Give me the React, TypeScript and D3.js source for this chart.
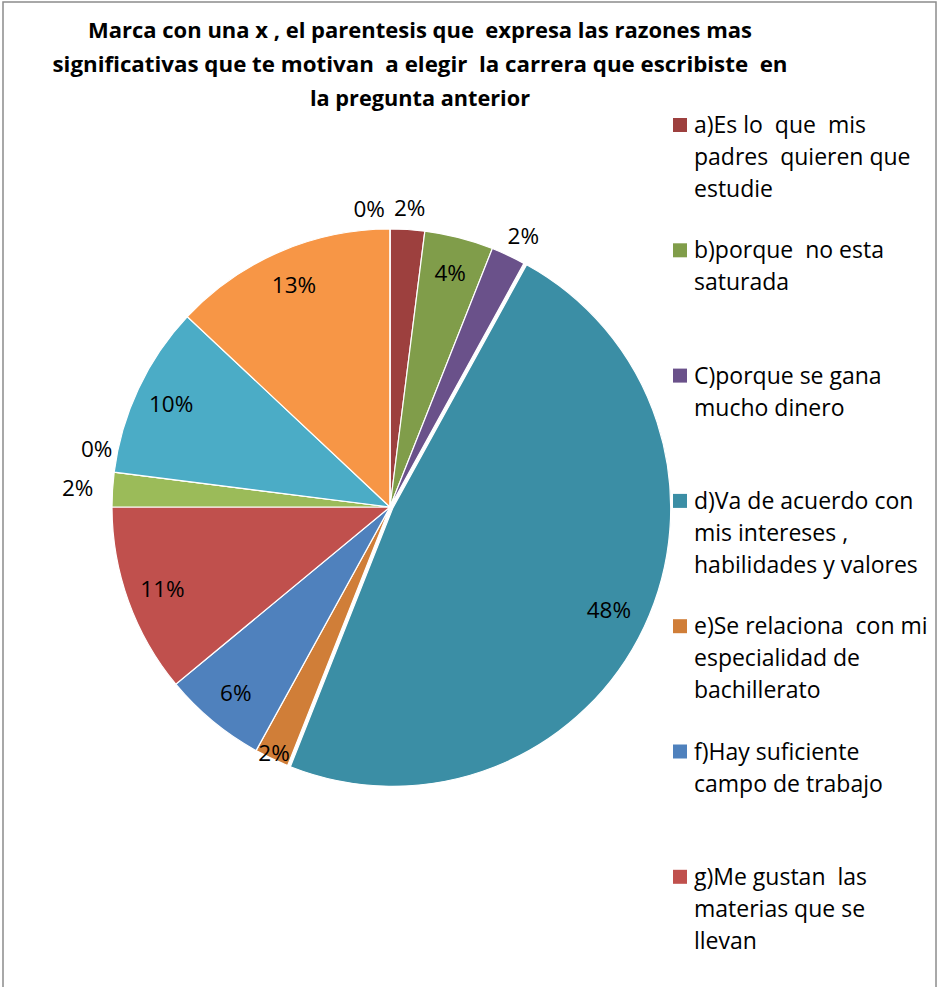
import React from "react";
import * as d3 from "d3";

const titleLines = [
  "Marca con una x , el parentesis que  expresa las razones mas",
  "significativas que te motivan  a elegir  la carrera que escribiste  en",
  "la pregunta anterior",
];

const sliceKeys = ["a", "b", "c", "d", "e", "f", "g", "h", "i", "j", "k", "l"];
const values = [2, 4, 2, 48, 2, 6, 11, 2, 0, 10, 13, 0];
const valueLabels = ["2%", "4%", "2%", "48%", "2%", "6%", "11%", "2%", "0%", "10%", "13%", "0%"];
const colors = [
  "#9D403E", "#809D4A", "#6A518A", "#3B8EA5", "#D07E38", "#4F81BD",
  "#C0504D", "#9BBB59", "#8064A2", "#4BACC6", "#F79646", "#3E6AA3",
];
const legendLines = [
  ["a)Es lo  que  mis", "padres  quieren que", "estudie"],
  ["b)porque  no esta", "saturada"],
  ["C)porque se gana", "mucho dinero"],
  ["d)Va de acuerdo con", "mis intereses ,", "habilidades y valores"],
  ["e)Se relaciona  con mi", "especialidad de", "bachillerato"],
  ["f)Hay suficiente", "campo de trabajo"],
  ["g)Me gustan  las", "materias que se", "llevan"],
];
// label placement style per slice
const labelPlacement = ["out", "in", "out", "in", "edge", "in", "in", "out", "out", "in", "in", "out"];
const explodedIndex = 3;

const FONT = "'Open Sans', Lato, sans-serif";
const titleWidths = [664, 735, 220];

export default function App() {
  const W = 937, H = 987;
  const cx = 390, cy = 507, r = 278;

  const pie = d3.pie<number>().sort(null).value((d) => d).startAngle(0).endAngle(2 * Math.PI);
  const arcs = pie(values);
  const arcGen = d3.arc<d3.PieArcDatum<number>>().innerRadius(0).outerRadius(r);

  const pt = (ang: number, R: number) => [cx + Math.sin(ang) * R, cy - Math.cos(ang) * R];
  const deg = Math.PI / 180;

  const labels = arcs.map((a, i) => {
    let ang = (a.startAngle + a.endAngle) / 2;
    const place = labelPlacement[i];
    if (values[i] === 0) {
      const prev = (i - 1 + values.length) % values.length;
      const next = (i + 1) % values.length;
      if (labelPlacement[prev] === "out" && values[prev] > 0) ang += 4 * deg;
      else if (labelPlacement[next] === "out" && values[next] > 0) ang -= 4 * deg;
    }
    const R = place === "in" ? r * 0.87 : place === "edge" ? r * 0.98 : r + 21;
    let [x, y] = pt(ang, R);
    if (place === "out" && values[i] > 0) x += Math.sin(ang) * 14;
    return { x, y, text: valueLabels[i] };
  });

  const legendX = 673;
  const legendTop = 125;
  const legendStep = 125.3;
  const lineH = 32;

  return (
    <svg width={W} height={H} style={{ position: "absolute", left: 0, top: 0, background: "#fff" }}>
      <rect x={0} y={0} width={W} height={H} fill="#fff" />
      <rect x={3} y={2} width={933} height={H + 10} fill="none" stroke="#8c8c8c" strokeWidth={1.5} />
      {titleLines.map((t, i) => (
        <text key={i} x={420} y={31 + i * 34} dy="0.35em" textAnchor="middle"
          fontFamily={FONT} fontWeight="bold" fontSize={21} fill="#000"
          textLength={titleWidths[i]} lengthAdjust="spacingAndGlyphs" style={{ whiteSpace: "pre" }}>
          {t}
        </text>
      ))}
      <g>
        {arcs.map((a, i) => {
          const mid = (a.startAngle + a.endAngle) / 2;
          const off = i === explodedIndex ? 3 : 0;
          const tx = Math.sin(mid) * off, ty = -Math.cos(mid) * off;
          return (
            <path key={sliceKeys[i]} d={arcGen(a) || ""} fill={colors[i]} stroke="#fff" strokeWidth={1.2}
              transform={`translate(${cx + tx},${cy + ty})`} />
          );
        })}
      </g>
      {labels.map((l, i) => (
        <text key={i} x={l.x} y={l.y} dy="0.35em" textAnchor="middle" fontFamily={FONT} fontSize={22.5} fill="#000">
          {l.text}
        </text>
      ))}
      {legendLines.map((lines, i) => {
        const y0 = legendTop + i * legendStep;
        return (
          <g key={i}>
            <rect x={legendX} y={y0 - 7} width={14} height={14} fill={colors[i]} />
            {lines.map((ln, j) => (
              <text key={j} x={legendX + 21} y={y0 + j * lineH} dy="0.35em" fontFamily={FONT} fontSize={23}
                fill="#000" style={{ whiteSpace: "pre" }}>
                {ln}
              </text>
            ))}
          </g>
        );
      })}
    </svg>
  );
}
